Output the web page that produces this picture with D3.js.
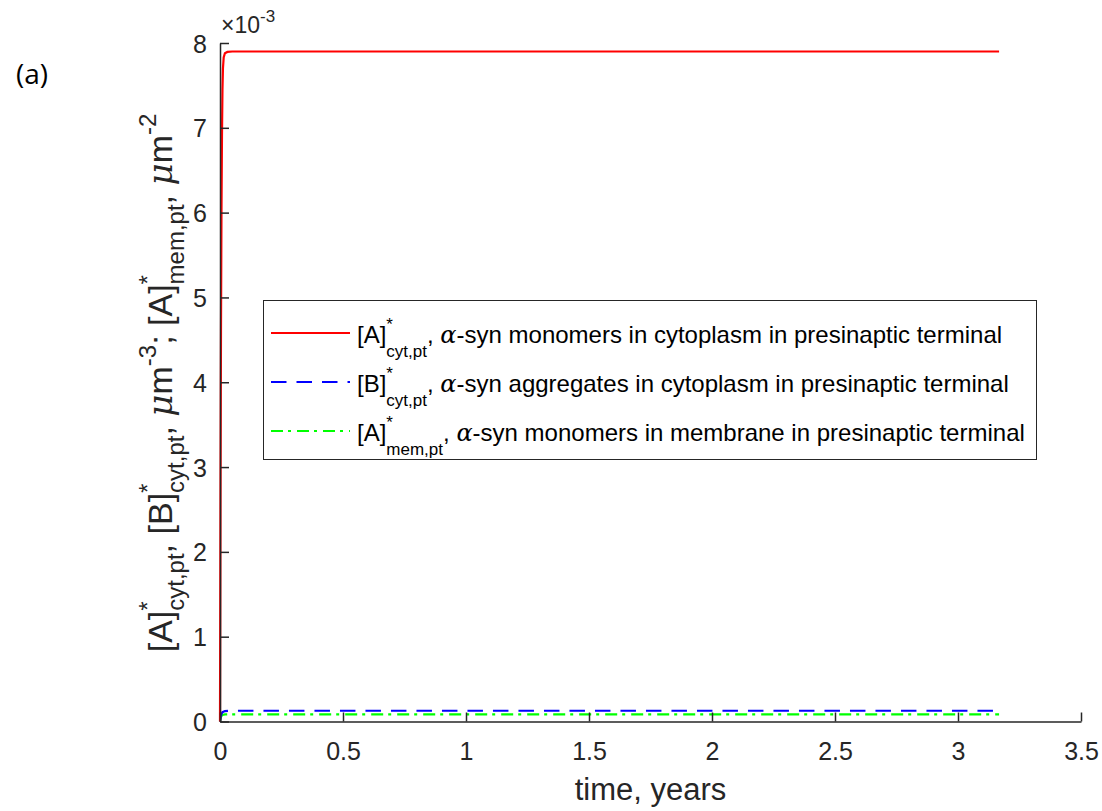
<!DOCTYPE html>
<html><head><meta charset="utf-8">
<script src="https://cdn.jsdelivr.net/npm/d3@7"></script>
<style>body{margin:0;background:#fff;} svg{display:block;}</style>
</head><body>
<svg id="c" width="1102" height="811"></svg>
<script>
// ---- data (values in units of 1e-3) ----
const redT = [0, 0.002, 0.004, 0.006, 0.008, 0.010, 0.012, 0.015, 0.02, 0.03, 0.05, 1, 2, 3.167];
const redV = [0, 2.6, 4.6, 6.0, 6.9, 7.45, 7.7, 7.83, 7.88, 7.895, 7.9, 7.9, 7.9, 7.9];
const blueT = [0, 0.003, 0.006, 0.01, 0.02, 0.04, 3.167];
const blueV = [0, 0.06, 0.09, 0.11, 0.123, 0.127, 0.127];
const greenT = [0, 0.003, 0.006, 0.01, 0.02, 0.04, 3.167];
const greenV = [0, 0.045, 0.065, 0.078, 0.084, 0.085, 0.085];
const xTicks = [0, 0.5, 1, 1.5, 2, 2.5, 3, 3.5];
const yTicks = [0, 1, 2, 3, 4, 5, 6, 7, 8];
const legendLabels = [
  {name:"[A]", sub:"cyt,pt", desc:"-syn monomers in cytoplasm in presinaptic terminal"},
  {name:"[B]", sub:"cyt,pt", desc:"-syn aggregates in cytoplasm in presinaptic terminal"},
  {name:"[A]", sub:"mem,pt", desc:"-syn monomers in membrane in presinaptic terminal"}
];

const svg = d3.select("#c");
const FONT = "'Liberation Sans', Arial, sans-serif";
const SERIF = "'DejaVu Serif', 'Liberation Serif', serif";
const AX = "#262626";
const x = d3.scaleLinear().domain([0, 3.5]).range([220, 1081]);
const y = d3.scaleLinear().domain([0, 8]).range([721.5, 43]);

// series
const series = [
  {t: redT, v: redV, color: "#ff0000", dash: null},
  {t: blueT, v: blueV, color: "#0000ff", dash: "15.5,10"},
  {t: greenT, v: greenV, color: "#00ff00", dash: "12,5,3,6"}
];
const line = d3.line().x(d => x(d[0])).y(d => y(d[1]));
series.slice().reverse().forEach(s => {
  svg.append("path").datum(s.t.map((t, i) => [t, s.v[i]]))
    .attr("d", line).attr("fill", "none").attr("stroke", s.color)
    .attr("stroke-width", 2.2).attr("stroke-dasharray", s.dash);
});

// axes
const xAxis = d3.axisBottom(x).tickValues(xTicks).tickSizeInner(-9).tickSizeOuter(0)
  .tickFormat(d => d3.format("")(d));
const gx = svg.append("g").attr("transform", `translate(0,${y(0)})`).call(xAxis);
const yAxis = d3.axisLeft(y).tickValues(yTicks).tickSizeInner(-9).tickSizeOuter(0);
const gy = svg.append("g").attr("transform", `translate(${x(0)},0)`).call(yAxis);
[gx, gy].forEach(g => {
  g.select(".domain").attr("stroke", AX).attr("stroke-width", 1.5);
  g.selectAll(".tick line").attr("stroke", AX).attr("stroke-width", 1.5);
  g.selectAll(".tick text").attr("fill", AX).attr("font-family", FONT).attr("font-size", 25);
});
gx.selectAll(".tick text").attr("dy", 0).attr("y", 38.5);
gy.selectAll(".tick text").attr("x", -13).attr("dy", "0.36em");

// rich text helper: segments placed sequentially, measured
function rich(parent, segs, anchor) {
  const g = parent.append("g");
  let cx = 0, prevStart = 0;
  segs.forEach(s => {
    const start = s.stack ? prevStart : cx;
    const t = g.append("text").attr("x", start).attr("y", s.dy || 0)
      .attr("font-family", s.family || FONT).attr("font-size", s.size)
      .attr("font-style", s.italic ? "italic" : "normal").attr("fill", s.fill || "#000")
      .style("white-space", "pre").text(s.t);
    const w = t.node().getComputedTextLength();
    if (s.stack) { cx = Math.max(cx, start + w); }
    else { prevStart = start; cx = start + w; }
  });
  if (anchor === "middle") g.selectAll("text").attr("x", function(){ return +d3.select(this).attr("x") - cx/2; });
  return g;
}

// ×10^-3
const ex = rich(svg, [
  {t: "×10", size: 23, fill: AX},
  {t: "-3", size: 17, dy: -11, fill: AX}
]);
ex.attr("transform", "translate(221,33)");

// x label
svg.append("text").attr("x", x(1.75)).attr("y", 800).attr("text-anchor", "middle")
  .attr("font-family", FONT).attr("font-size", 31).attr("fill", AX).text("time, years");

// y label
const M = 34, S = 24, SUP = -16, SUB = 12;
const mu = {t: "μ", size: M, italic: true, family: SERIF, fill: AX};
const yl = rich(svg, [
  {t: "[A]", size: M, fill: AX}, {t: "*", size: S, dy: SUP, fill: AX}, {t: "cyt,pt", size: S, dy: SUB, stack: true, fill: AX},
  {t: ", [B]", size: M, fill: AX}, {t: "*", size: S, dy: SUP, fill: AX}, {t: "cyt,pt", size: S, dy: SUB, stack: true, fill: AX},
  {t: ", ", size: M, fill: AX}, mu, {t: "m", size: M, fill: AX}, {t: "-3", size: S, dy: SUP, fill: AX},
  {t: "; [A]", size: M, fill: AX}, {t: "*", size: S, dy: SUP, fill: AX}, {t: "mem,pt", size: S, dy: SUB, stack: true, fill: AX},
  {t: ", ", size: M, fill: AX}, mu, {t: "m", size: M, fill: AX}, {t: "-2", size: S, dy: SUP, fill: AX}
], "middle");
yl.attr("transform", "translate(172,383) rotate(-90)");

// legend
const lg = svg.append("g");
lg.append("rect").attr("x", 263.5).attr("y", 300.5).attr("width", 773).attr("height", 159)
  .attr("fill", "#fff").attr("stroke", "#262626").attr("stroke-width", 1);
const rowY = [333, 382, 431];
series.forEach((s, i) => {
  lg.append("line").attr("x1", 271).attr("x2", 350).attr("y1", rowY[i]).attr("y2", rowY[i])
    .attr("stroke", s.color).attr("stroke-width", 2.2).attr("stroke-dasharray", s.dash);
  const L = legendLabels[i];
  const r = rich(lg, [
    {t: L.name, size: 24}, {t: "*", size: 17, dy: -13}, {t: L.sub, size: 17, dy: 14, stack: true},
    {t: ", ", size: 24},
    {t: "α", size: 24, italic: true, family: SERIF},
    {t: L.desc, size: 24}
  ]);
  r.attr("transform", `translate(357,${rowY[i] + 10})`);
});

// panel label
svg.append("text").attr("x", 16).attr("y", 84).attr("font-family", "'Open Sans', 'Noto Sans', sans-serif")
  .attr("font-size", 28).attr("fill", "#000").text("(a)");
</script>
</body></html>
